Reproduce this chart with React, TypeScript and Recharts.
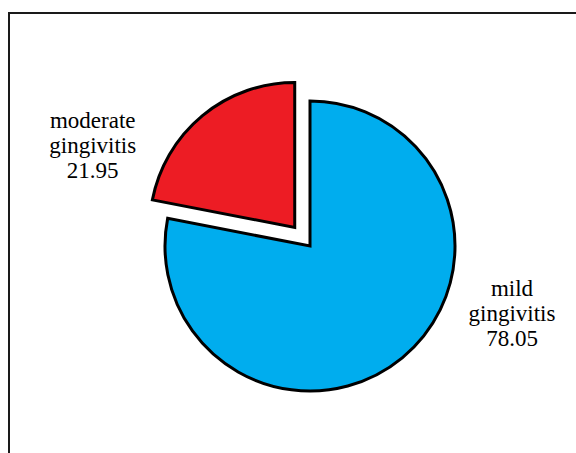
import { PieChart, Pie, Cell } from 'recharts'

const categories = ['mild gingivitis', 'moderate gingivitis']
const values = [78.05, 21.95]
const colors = ['#00ADEE', '#ED1C24']

const data = categories.map((name, i) => ({ name, value: values[i] }))

const W = 576
const H = 453
const CX = 310
const CY = 246
const R = 145
const EXPLODE = 24
const SERIF = "'Liberation Serif', 'Times New Roman', Times, serif"

// middle angle of the moderate slice (recharts degrees), used to push it out
const total = values.reduce((a, b) => a + b, 0)
const redMid = 90 - 360 * (values[0] + values[1] / 2) / total
const redCx = CX + EXPLODE * Math.cos((redMid * Math.PI) / 180)
const redCy = CY - EXPLODE * Math.sin((redMid * Math.PI) / 180)

const renderLabel = (show: number) => (props: any) => {
  const { index, cx, cy, midAngle } = props
  if (index !== show) return null
  const rad = (-midAngle * Math.PI) / 180
  const x = cx + Math.sign(Math.cos(rad)) * 202
  const y = cy + Math.sin(rad) * 97
  const lines = [...categories[index].split(' '), values[index].toFixed(2)]
  return (
    <g>
      {lines.map((t, i) => (
        <text
          key={i}
          x={x}
          y={y + (i - 1) * 25}
          textAnchor="middle"
          fill="#000"
          fontFamily={SERIF}
          fontSize={23}
          style={{ fontFamily: SERIF }}
        >
          {t}
        </text>
      ))}
    </g>
  )
}

export default function App() {
  return (
    <div
      style={{
        position: 'fixed',
        left: 0,
        top: 0,
        width: W,
        height: H,
        overflow: 'hidden',
        background: '#fff',
      }}
    >
      <div
        style={{
          position: 'absolute',
          left: 8,
          top: 12,
          width: 700,
          height: 600,
          borderLeft: '2px solid #1a1a1a',
          borderTop: '2px solid #1a1a1a',
        }}
      />
      <div style={{ position: 'absolute', left: 0, top: 0, fontFamily: SERIF }}>
        <PieChart width={W} height={H} margin={{ top: 0, right: 0, bottom: 0, left: 0 }}>
          <Pie
            data={data}
            dataKey="value"
            nameKey="name"
            cx={CX}
            cy={CY}
            outerRadius={R}
            startAngle={90}
            endAngle={-270}
            isAnimationActive={false}
            labelLine={false}
            label={renderLabel(0)}
          >
            {data.map((_, i) => (
              <Cell
                key={i}
                fill={i === 0 ? colors[0] : 'none'}
                stroke={i === 0 ? '#000' : 'none'}
                strokeWidth={3}
              />
            ))}
          </Pie>
          <Pie
            data={data}
            dataKey="value"
            nameKey="name"
            cx={redCx}
            cy={redCy}
            outerRadius={R}
            startAngle={90}
            endAngle={-270}
            isAnimationActive={false}
            labelLine={false}
            label={renderLabel(1)}
          >
            {data.map((_, i) => (
              <Cell
                key={i}
                fill={i === 1 ? colors[1] : 'none'}
                stroke={i === 1 ? '#000' : 'none'}
                strokeWidth={3}
              />
            ))}
          </Pie>
        </PieChart>
      </div>
    </div>
  )
}
